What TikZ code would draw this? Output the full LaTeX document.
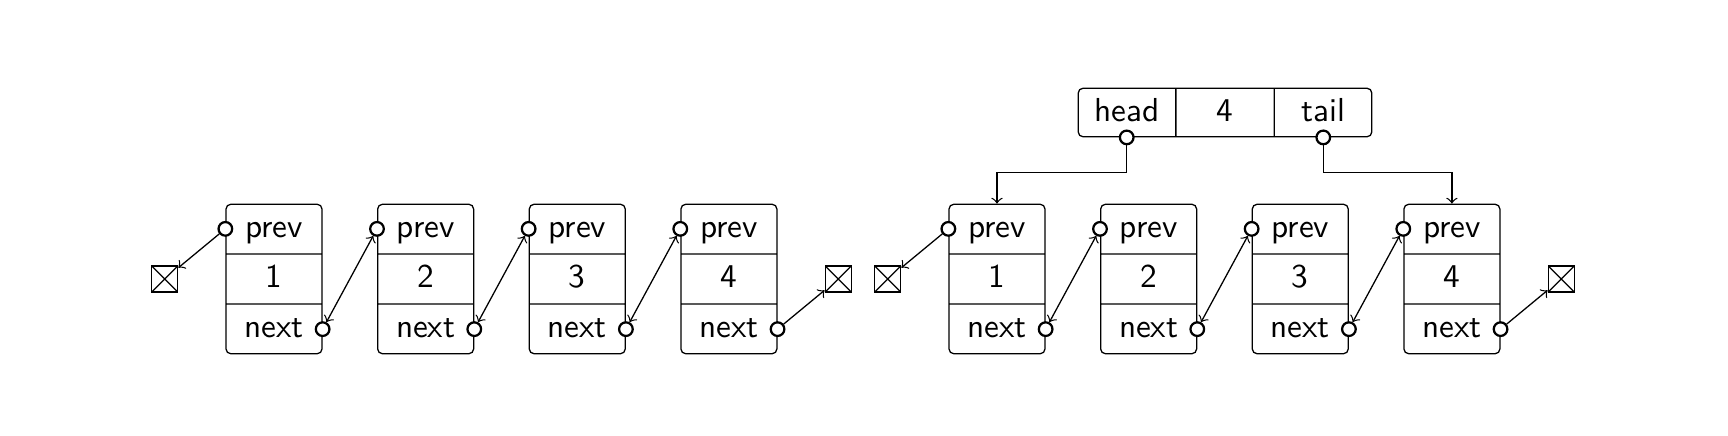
\documentclass[tikz,border=0pt]{standalone}
\usetikzlibrary{shapes.multipart,positioning,calc}
\newcommand\rowstrut{\rule[-0.076cm]{0pt}{0.342cm}}
\begin{document}
\begin{tikzpicture}[font=\sffamily\fontsize{10.4}{12.5}\selectfont,>=to,
  elem/.style={draw,rectangle split,rectangle split parts=3,rounded corners=1.5pt,
    inner xsep=0pt,inner ysep=0.096cm,text width=1.056cm,align=center},
  hdr/.style={elem,rectangle split horizontal,text width=1.067cm},
  ptr/.style={circle,draw,line width=0.7pt,fill=white,inner sep=0pt,minimum size=0.15cm},
  nil/.style={draw,inner sep=0pt,minimum size=0.286cm,
    path picture={\draw (path picture bounding box.north west) -- (path picture bounding box.south east)
      (path picture bounding box.south west) -- (path picture bounding box.north east);}}]
  \useasboundingbox (0,0) rectangle (19.008,4.785);
  \foreach \l/\x in {a/3.014,b/10.967}{
    \foreach \i in {1,...,4}{
      \node[elem] (\l\i) at ({\x+(\i-1)*1.668},1.716)
        {\rowstrut prev\nodepart{two}\rowstrut\i\nodepart{three}\rowstrut next};
      \node[ptr] (\l\i p) at ($(\l\i.north west)!0.5!(\l\i.text split west)$) {};
      \node[ptr] (\l\i n) at ($(\l\i.two split east)!0.5!(\l\i.south east)$) {};
    }
    \foreach \i/\j in {1/2,2/3,3/4}
      \draw[<->] (\l\i n) -- (\l\j p);
    \node[nil,left=0.517cm of \l1] (\l0) {};
    \node[nil,right=0.517cm of \l4] (\l5) {};
    \draw[->] (\l1p) -- (\l0);
    \draw[->] (\l4n) -- (\l5);
  }
  \node[hdr] (h) at (13.475,3.5475)
    {\rowstrut head\nodepart{two}\rowstrut 4\nodepart{three}\rowstrut tail};
  \node[ptr] (hh) at ($(h.south west)!0.5!(h.text split |- h.south)$) {};
  \node[ptr] (ht) at ($(h.two split |- h.south)!0.5!(h.south east)$) {};
  \draw[->] (hh) |- ($(hh)!0.53!(b1.north)$) -| (b1.north);
  \draw[->] (ht) |- ($(ht)!0.53!(b4.north)$) -| (b4.north);
\end{tikzpicture}
\end{document}
